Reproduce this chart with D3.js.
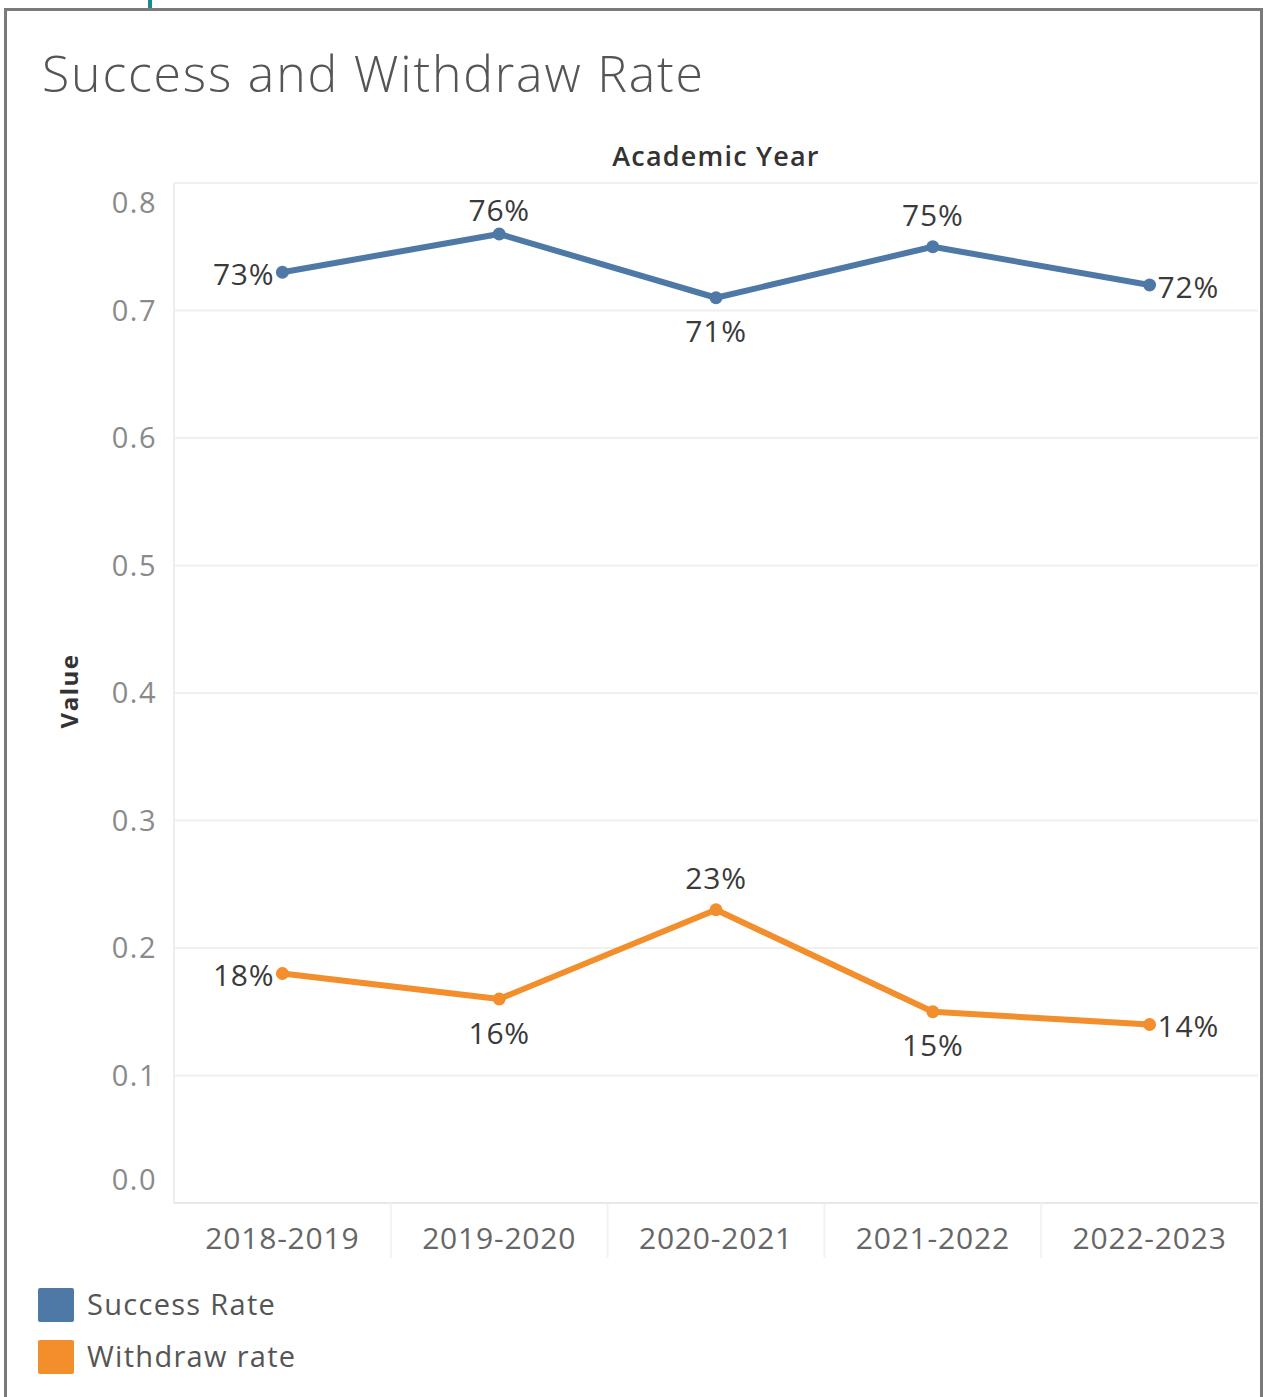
<!DOCTYPE html>
<html lang="en">
<head>
<meta charset="UTF-8">
<title>Success and Withdraw Rate</title>
<script src="https://cdn.jsdelivr.net/npm/d3@7/dist/d3.min.js"></script>
<style>
  body { margin: 0; background: #fff; }
  svg { display: block; font-family: "Open Sans", "DejaVu Sans", sans-serif; }
</style>
</head>
<body>
<svg id="chart"></svg>
<script>
// data
var years = ["2018-2019", "2019-2020", "2020-2021", "2021-2022", "2022-2023"];
var successRate = [0.73, 0.76, 0.71, 0.75, 0.72];
var withdrawRate = [0.18, 0.16, 0.23, 0.15, 0.14];
var yTicks = [0, 0.1, 0.2, 0.3, 0.4, 0.5, 0.6, 0.7, 0.8];
var seriesNames = ["Success Rate", "Withdraw rate"];
var seriesColors = ["#4e79a7", "#f28e2b"];
// where each data label sits relative to its point
var successLabelPos = ["left", "above", "below", "above", "right"];
var withdrawLabelPos = ["left", "below", "above", "below", "right"];

var W = 1265, H = 1397;
var plot = {left: 174, right: 1258, top: 183, bottom: 1203};

var svg = d3.select("#chart").attr("width", W).attr("height", H);

// teal mark at the top and the grey frame
svg.append("rect").attr("x", 148).attr("y", 0).attr("width", 4).attr("height", 8).attr("fill", "#1a8a8a");
svg.append("rect").attr("x", 5.5).attr("y", 9.5).attr("width", 1256).attr("height", 1400)
  .attr("fill", "none").attr("stroke", "#7a7a7a").attr("stroke-width", 3);

svg.append("text").attr("x", 42).attr("y", 92)
  .attr("font-size", 50).attr("fill", "#555").attr("font-weight", 300)
  .attr("textLength", 661).attr("lengthAdjust", "spacing")
  .text("Success and Withdraw Rate");

var x = d3.scaleBand().domain(years).range([plot.left, plot.right]);
var y = d3.scaleLinear().domain([0, 0.8]).range([plot.bottom, plot.top]);

// gridlines
svg.append("g").selectAll("line").data(yTicks.filter(function(d) { return d > 0; }))
  .enter().append("line")
  .attr("x1", plot.left).attr("x2", plot.right)
  .attr("y1", function(d) { return y(d); }).attr("y2", function(d) { return y(d); })
  .attr("stroke", "#f0f0f0").attr("stroke-width", 2);

svg.append("line").attr("x1", plot.left).attr("x2", plot.left)
  .attr("y1", plot.top).attr("y2", plot.bottom).attr("stroke", "#eee").attr("stroke-width", 2);
svg.append("line").attr("x1", plot.left).attr("x2", plot.right)
  .attr("y1", plot.bottom).attr("y2", plot.bottom).attr("stroke", "#e8e8e8").attr("stroke-width", 2);

// category separators under the axis
svg.append("g").selectAll("line").data(years.slice(1))
  .enter().append("line")
  .attr("x1", function(d) { return x(d); }).attr("x2", function(d) { return x(d); })
  .attr("y1", plot.bottom).attr("y2", plot.bottom + 55)
  .attr("stroke", "#f2f2f2").attr("stroke-width", 2);

// y axis labels (ends nudged inward, like tableau)
svg.append("g").selectAll("text").data(yTicks)
  .enter().append("text")
  .attr("x", 157)
  .attr("y", function(d) {
    var off = 0;
    if (d === 0.8) off = 20;
    if (d === 0) off = -23;
    return y(d) + off;
  })
  .attr("dy", "0.35em").attr("text-anchor", "end")
  .attr("font-size", 29).attr("letter-spacing", 1.5).attr("fill", "#8a8a8a")
  .text(function(d) { return d3.format(".1f")(d); });

// x axis labels
svg.append("g").selectAll("text").data(years)
  .enter().append("text")
  .attr("x", function(d) { return x(d) + x.bandwidth() / 2; })
  .attr("y", 1238).attr("dy", "0.35em").attr("text-anchor", "middle")
  .attr("font-size", 30).attr("letter-spacing", 0.8).attr("fill", "#666")
  .text(function(d) { return d; });

// axis titles
svg.append("text").attr("x", 716).attr("y", 157).attr("dy", "0.35em")
  .attr("text-anchor", "middle").attr("font-size", 27).attr("font-weight", 600)
  .attr("letter-spacing", 1.2).attr("fill", "#333").text("Academic Year");
svg.append("text").attr("transform", "translate(70,691) rotate(-90)")
  .attr("dy", "0.35em").attr("text-anchor", "middle").attr("font-size", 24)
  .attr("letter-spacing", 1.5)
  .attr("font-weight", 700).attr("fill", "#333").text("Value");

var line = d3.line()
  .x(function(d, i) { return x(years[i]) + x.bandwidth() / 2; })
  .y(function(d) { return y(d); });

function drawSeries(values, color, pos) {
  var g = svg.append("g");
  g.append("path").datum(values).attr("d", line)
    .attr("fill", "none").attr("stroke", color).attr("stroke-width", 6)
    .attr("stroke-linejoin", "round");
  g.selectAll("circle").data(values).enter().append("circle")
    .attr("cx", function(d, i) { return x(years[i]) + x.bandwidth() / 2; })
    .attr("cy", function(d) { return y(d); })
    .attr("r", 6.5).attr("fill", color);
  g.selectAll("text").data(values).enter().append("text")
    .attr("x", function(d, i) {
      var cx = x(years[i]) + x.bandwidth() / 2;
      if (pos[i] === "left") return cx - 8;
      if (pos[i] === "right") return cx + 8;
      return cx;
    })
    .attr("y", function(d, i) {
      // keep labels inside the pane at the top
      if (pos[i] === "above") return Math.max(y(d) - 31, plot.top + 27);
      if (pos[i] === "below") return y(d) + 34;
      return y(d) + 2;
    })
    .attr("dy", "0.35em")
    .attr("text-anchor", function(d, i) {
      return pos[i] === "left" ? "end" : pos[i] === "right" ? "start" : "middle";
    })
    .attr("font-size", 30).attr("letter-spacing", 0.8).attr("fill", "#3a3a3a")
    .text(function(d) { return d3.format(".0%")(d); });
}

drawSeries(successRate, seriesColors[0], successLabelPos);
drawSeries(withdrawRate, seriesColors[1], withdrawLabelPos);

// legend
var legend = svg.append("g").selectAll("g").data(seriesNames).enter().append("g")
  .attr("transform", function(d, i) { return "translate(38," + (1288 + i * 52) + ")"; });
legend.append("rect").attr("width", 36).attr("height", 34).attr("rx", 2)
  .attr("fill", function(d, i) { return seriesColors[i]; });
legend.append("text").attr("x", 49).attr("y", 17).attr("dy", "0.35em")
  .attr("font-size", 29).attr("letter-spacing", 1.3).attr("fill", "#555")
  .text(function(d) { return d; });
</script>
</body>
</html>
